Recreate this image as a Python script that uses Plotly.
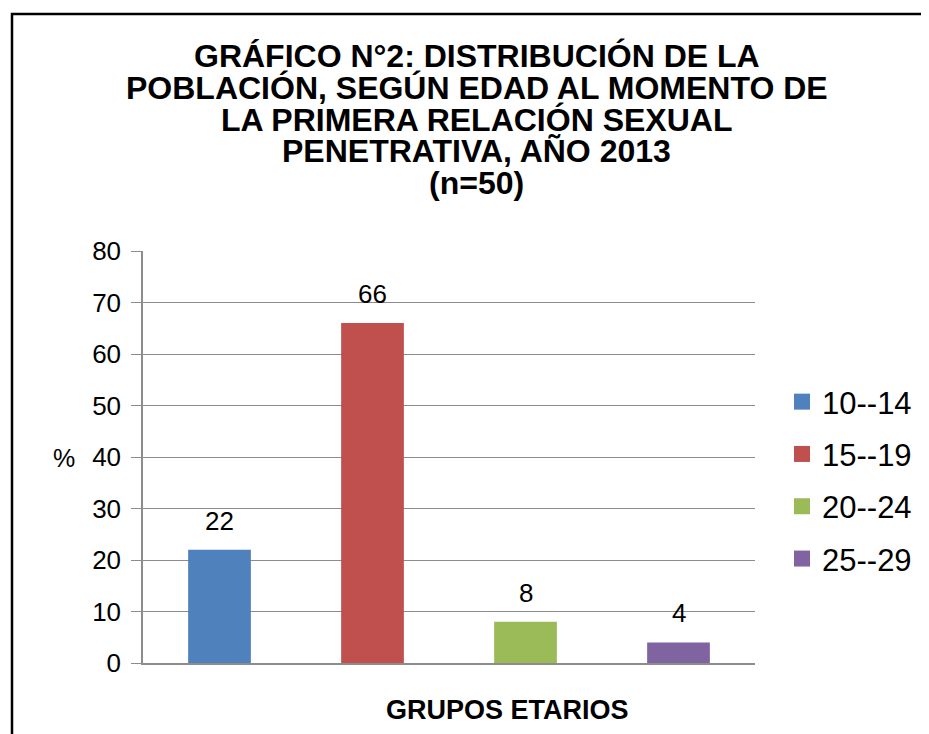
import plotly.graph_objects as go

categories = ["10--14", "15--19", "20--24", "25--29"]
values = [22, 66, 8, 4]
colors = ["#4F81BD", "#C0504D", "#9BBB59", "#8064A2"]
title_lines = [
    "GRÁFICO N°2: DISTRIBUCIÓN DE LA",
    "POBLACIÓN, SEGÚN EDAD AL MOMENTO DE",
    "LA PRIMERA RELACIÓN SEXUAL",
    "PENETRATIVA, AÑO 2013",
    "(n=50)",
]
y_ticks = [0, 10, 20, 30, 40, 50, 60, 70, 80]

# page body has an 8px margin; work in screen pixels and offset
OFF = 8
L, R, T, B = 143 - OFF, 755 - OFF, 251 - OFF, 663 - OFF
W, H = 929 - OFF, 734 - OFF
def px_x(p):
    return (p - OFF - L) / (R - L)
def px_y(p):
    return (B - (p - OFF)) / (B - T)

FONT = "Liberation Sans, Arial"
fig = go.Figure()
for c, v, col in zip(categories, values, colors):
    fig.add_trace(go.Bar(x=[c], y=[v], marker=dict(color=col, line=dict(width=0)),
                         width=0.41, showlegend=False, name=c))
for i, (c, col) in enumerate(zip(categories, colors)):
    fig.add_trace(go.Scatter(x=[None], y=[None], mode="markers", name=c,
                             marker=dict(symbol="square", size=16, color=col),
                             legendgroup=f"g{i}", showlegend=True))

annotations = []
for c, v in zip(categories, values):
    annotations.append(dict(x=c, y=v, xref="x", yref="y", text=str(v), showarrow=False,
                            yanchor="bottom", yshift=12,
                            font=dict(family=FONT, size=26, color="#000")))

title_baselines = [67, 99, 131, 162, 194]
for line, bl in zip(title_lines, title_baselines):
    annotations.append(dict(x=px_x(477), y=px_y(bl - 11), xref="paper", yref="paper",
                            text=f"<b>{line}</b>", showarrow=False, xanchor="center", yanchor="middle",
                            font=dict(family=FONT, size=32, color="#000")))

annotations.append(dict(x=px_x(63.5), y=px_y(458), xref="paper", yref="paper", text="%",
                        showarrow=False, xanchor="center", yanchor="middle",
                        font=dict(family=FONT, size=25, color="#000")))
annotations.append(dict(x=px_x(507.5), y=px_y(709.5), xref="paper", yref="paper",
                        text="<b>GRUPOS ETARIOS</b>", showarrow=False, xanchor="center", yanchor="middle",
                        font=dict(family=FONT, size=27, color="#000")))

fig.update_layout(
    width=W, height=H,
    margin=dict(l=L, r=W - R, t=T, b=H - B, pad=0),
    paper_bgcolor="white", plot_bgcolor="white",
    barmode="overlay",
    annotations=annotations,
    font=dict(family=FONT, color="#000"),
    legend=dict(x=px_x(782), xanchor="left", y=px_y(480.5), yanchor="middle",
                font=dict(size=31, family=FONT, color="#000"),
                tracegroupgap=9, itemsizing="trace", bgcolor="rgba(0,0,0,0)"),
    shapes=[dict(type="rect", xref="paper", yref="paper",
                 x0=px_x(12), x1=px_x(945), y0=px_y(760), y1=px_y(14),
                 line=dict(color="#000", width=2.5), fillcolor="rgba(0,0,0,0)", layer="below")],
    xaxis=dict(showticklabels=False, showgrid=False, showline=True, linecolor="#8C8C8C",
               linewidth=1.5, ticks="", range=[-0.5, 3.5], zeroline=False, fixedrange=True),
    yaxis=dict(range=[0, 80], tickvals=y_ticks, showgrid=True, gridcolor="#8C8C8C", gridwidth=1,
               showline=True, linecolor="#8C8C8C", linewidth=1.5, ticks="outside", ticklen=10,
               tickcolor="#8C8C8C", tickfont=dict(size=26, family=FONT, color="#000"),
               ticklabelstandoff=5, zeroline=False),
)

fig.write_html("out.html")
